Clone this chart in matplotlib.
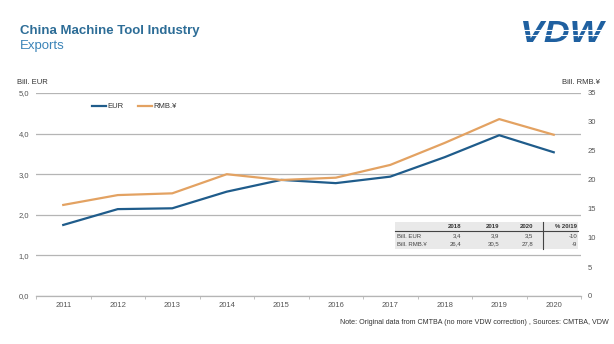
import matplotlib
matplotlib.use("Agg")
from matplotlib import pyplot as plt
from matplotlib.lines import Line2D
from matplotlib.patches import PathPatch
from matplotlib.textpath import TextPath
from matplotlib.font_manager import FontProperties
from matplotlib.transforms import Affine2D, IdentityTransform
import numpy as np

plt.rcParams['font.family'] = ['Liberation Sans', 'DejaVu Sans']

# data
years = ['2011', '2012', '2013', '2014', '2015', '2016', '2017', '2018', '2019', '2020']
eur = [1.75, 2.14, 2.16, 2.57, 2.86, 2.78, 2.94, 3.42, 3.96, 3.54]
rmb = [15.7, 17.4, 17.7, 21.0, 20.0, 20.4, 22.6, 26.4, 30.5, 27.8]

tab_cols = ['2018', '2019', '2020', '% 20/19']
tab_rows = ['Bill. EUR', 'Bill. RMB.\u00a5']
tab_eur = ['3,4', '3,9', '3,5', '-10']
tab_rmb = ['26,4', '30,5', '27,8', '-9']

blue = '#1f5c8b'
orange = '#e3a262'
grid_c = '#b5b5b5'
txt_c = '#555555'

W, H = 614, 344
fig = plt.figure(figsize=(W / 100, H / 100), dpi=100)
ax = fig.add_axes([36 / W, 1 - 296 / H, 545 / W, 203 / H])
ax2 = ax.twinx()

x = np.arange(len(years))
ax.plot(x, eur, color=blue, lw=1.6, zorder=3)
ax2.plot(x, rmb, color=orange, lw=1.6, zorder=3)

ax.set_xlim(-0.5, len(years) - 0.5)
ax.set_ylim(0, 5)
ax2.set_ylim(0, 35)
ax.set_yticks(np.arange(0, 5.01, 1))
ax.set_yticklabels([f'{v:.1f}'.replace('.', ',') for v in np.arange(0, 5.01, 1)])
ax2.set_yticks(np.arange(0, 36, 5))
ax.yaxis.grid(True, color=grid_c, lw=0.9)
ax.set_axisbelow(True)

for a in (ax, ax2):
    for s in a.spines.values():
        s.set_visible(False)
    a.tick_params(axis='y', length=0, labelsize=5.5, labelcolor=txt_c)
ax.tick_params(axis='y', pad=5)
ax2.tick_params(axis='y', pad=5)

ax.set_xticks(x)
ax.set_xticklabels(years)
ax.set_xticks(np.arange(-0.5, len(years), 1), minor=True)
ax.tick_params(axis='x', which='major', length=0, labelsize=5.5, labelcolor=txt_c, pad=4.5)
ax.tick_params(axis='x', which='minor', length=2.5, color=grid_c, width=0.6)
ax.spines['bottom'].set_visible(True)
ax.spines['bottom'].set_color(grid_c)
ax.spines['bottom'].set_linewidth(0.9)

# legend
handles = [Line2D([], [], color=blue, lw=1.6), Line2D([], [], color=orange, lw=1.6)]
ax.legend(handles, ['EUR', 'RMB.\u00a5'], loc='upper left', bbox_to_anchor=(0.09, 0.985),
          ncol=2, frameon=False, fontsize=5.5, handlelength=1.9, handletextpad=0.1,
          columnspacing=1.9, labelcolor='#333333')

# axis unit labels
fig.text(17 / W, 1 - 82 / H, 'Bill. EUR', fontsize=5.5, color='#333333', va='center', ha='left')
fig.text(600 / W, 1 - 82 / H, 'Bill. RMB.\u00a5', fontsize=5.5, color='#333333', va='center', ha='right')

# titles
fig.text(20 / W, 1 - 31 / H, 'China Machine Tool Industry', fontsize=9.5, fontweight='bold',
         color='#2d6d97', va='center', ha='left')
fig.text(20 / W, 1 - 46 / H, 'Exports', fontsize=9.5, color='#3b84b8', va='center', ha='left')

# logo: wide bold italic VDW with white stripes
tp = TextPath((0, 0), 'VDW', size=30,
              prop=FontProperties(family='Liberation Sans', weight='bold', style='italic'))
bb = tp.get_extents()
lx0, lx1, ly0, ly1 = 523, 606, H - 42, H - 21
tr = (Affine2D().translate(-bb.x0, -bb.y0)
      .scale((lx1 - lx0) / bb.width, (ly1 - ly0) / bb.height)
      .translate(lx0, ly0))
fig.add_artist(PathPatch(tp, transform=tr + IdentityTransform(), facecolor='#1f60a0',
                         edgecolor='none', zorder=5))
for yy in (30, 35):
    fig.add_artist(Line2D([516 / W, 610 / W], [1 - yy / H] * 2, color='white', lw=0.8,
                          transform=fig.transFigure, zorder=10))

# inset table
tx0, tx1, ty0, ty1 = 395, 578, 222, 249
fig.patches.append(plt.Rectangle((tx0 / W, 1 - ty1 / H), (tx1 - tx0) / W, (ty1 - ty0) / H,
                                 transform=fig.transFigure, facecolor='#e9e9e9', edgecolor='none'))
col_x = [461, 499, 533, 577]
row_y = [226.5, 236, 244]
for cx, lab in zip(col_x, tab_cols):
    fig.text(cx / W, 1 - row_y[0] / H, lab, fontsize=4.3, fontweight='bold', color='#333333',
             ha='right', va='center')
for ry, name, vals in zip(row_y[1:], tab_rows, [tab_eur, tab_rmb]):
    fig.text(397 / W, 1 - ry / H, name, fontsize=4.3, color='#444444', ha='left', va='center')
    for cx, v in zip(col_x, vals):
        fig.text(cx / W, 1 - ry / H, v, fontsize=4.3, color='#444444', ha='right', va='center')
fig.add_artist(Line2D([tx0 / W, tx1 / W], [1 - 231 / H] * 2, color='#444444', lw=0.8,
                      transform=fig.transFigure))
fig.add_artist(Line2D([543 / W] * 2, [1 - 222 / H, 1 - 249 / H], color='#444444', lw=0.8,
                      transform=fig.transFigure))

# footnote
fig.text(609 / W, 1 - 323 / H, 'Note: Original data from CMTBA (no more VDW correction) , Sources: CMTBA, VDW',
         fontsize=5.1, color='#333333', ha='right', va='center')

fig.savefig('out.png', dpi=100)
